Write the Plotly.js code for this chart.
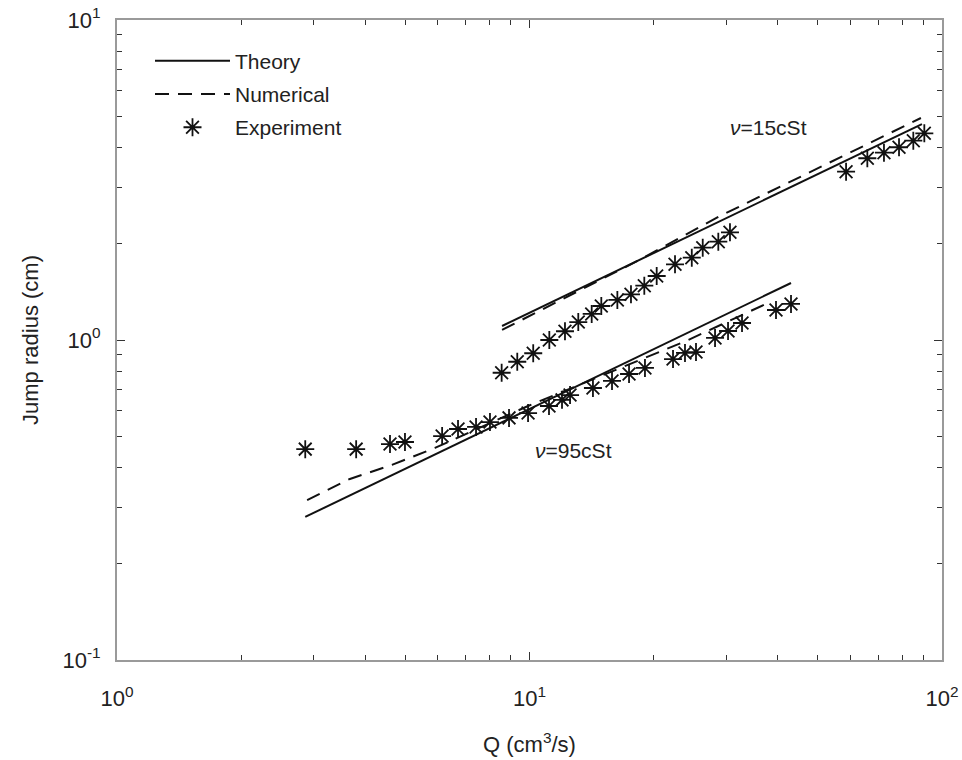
<!DOCTYPE html>
<html>
<head>
<meta charset="utf-8">
<script src="https://cdn.plot.ly/plotly-3.0.1.min.js"></script>
<style>html,body{margin:0;padding:0;background:#fff;}#chart{width:962px;height:760px;}</style>
</head>
<body>
<div id="chart"></div>
<script>
// Experiment, nu = 95 cSt
const exp95Q = [2.86, 3.80, 4.59, 4.99, 6.14, 6.71, 7.42, 8.02, 8.92, 9.92, 11.15, 11.99, 12.54, 14.25, 15.85, 17.43, 19.05, 22.28, 23.82, 25.33, 28.17, 30.29, 32.75, 39.59, 43.05];
const exp95R = [0.456, 0.456, 0.473, 0.480, 0.501, 0.527, 0.535, 0.554, 0.571, 0.591, 0.622, 0.650, 0.673, 0.708, 0.745, 0.783, 0.818, 0.872, 0.911, 0.917, 1.015, 1.067, 1.130, 1.241, 1.296];
// Experiment, nu = 15 cSt
const exp15Q = [8.56, 9.34, 10.21, 11.17, 12.19, 13.13, 14.15, 14.93, 16.33, 17.62, 18.98, 20.34, 22.53, 24.74, 26.30, 28.69, 30.62, 58.54, 65.92, 72.33, 78.67, 85.20, 90.60];
const exp15R = [0.790, 0.855, 0.909, 1.000, 1.065, 1.138, 1.206, 1.277, 1.334, 1.389, 1.478, 1.585, 1.724, 1.808, 1.943, 2.029, 2.170, 3.357, 3.698, 3.849, 4.002, 4.197, 4.424];
// Theory lines
const theory95Q = [2.86, 43.05];
const theory95R = [0.280, 1.507];
const theory15Q = [8.58, 89.4];
const theory15R = [1.106, 4.73];
// Numerical curves
const num95Q = [2.89, 3.67, 4.64, 5.90, 9.92, 14.83, 23.95, 38.28];
const num95R = [0.316, 0.368, 0.407, 0.460, 0.622, 0.772, 0.993, 1.314];
const num15Q = [8.58, 18.53, 28.96, 88.9];
const num15R = [1.075, 1.783, 2.44, 4.94];

// Labels
const xTickVals = [1, 10, 100];
const xTickText = ['10<sup>0</sup>', '10<sup>1</sup>', '10<sup>2</sup>'];
const yTickVals = [0.1, 1, 10];
const yTickText = ['10<sup>-1</sup>', '10<sup>0</sup>', '10<sup>1</sup>'];
const minorX = [2,3,4,5,6,7,8,9,20,30,40,50,60,70,80,90];
const minorY = [0.2,0.3,0.4,0.5,0.6,0.7,0.8,0.9,2,3,4,5,6,7,8,9];
const seriesNames = ['Theory', 'Numerical', 'Experiment'];
const labelNames = ['<i>ν</i>=15cSt', '<i>ν</i>=95cSt'];
const labelQ = [37.9, 12.75];
const labelR = [4.60, 0.45];

const black = '#111';
const dashStyle = '14px,9px';
const markerStyle = {symbol: 'asterisk-open', size: 15, color: black, line: {color: black, width: 1.8}};
const traces = [
  {x: theory15Q, y: theory15R, mode: 'lines', name: seriesNames[0], legendgroup: 'th', showlegend: true,
   line: {color: black, width: 2}},
  {x: theory95Q, y: theory95R, mode: 'lines', name: seriesNames[0], legendgroup: 'th', showlegend: false,
   line: {color: black, width: 2}},
  {x: num15Q, y: num15R, mode: 'lines', name: seriesNames[1], legendgroup: 'nu', showlegend: true,
   line: {color: black, width: 2, dash: dashStyle}},
  {x: num95Q, y: num95R, mode: 'lines', name: seriesNames[1], legendgroup: 'nu', showlegend: false,
   line: {color: black, width: 2, dash: dashStyle}},
  {x: exp15Q, y: exp15R, mode: 'markers', name: seriesNames[2], legendgroup: 'ex', showlegend: true,
   marker: markerStyle},
  {x: exp95Q, y: exp95R, mode: 'markers', name: seriesNames[2], legendgroup: 'ex', showlegend: false,
   marker: markerStyle}
];

const FONT = 'Liberation Sans, Arial, sans-serif';
const axisCommon = {
  type: 'log',
  showline: true, linecolor: '#9a9a9a', linewidth: 2, mirror: 'allticks',
  ticks: 'inside', ticklen: 8, tickwidth: 1, tickcolor: '#333',
  showgrid: false, zeroline: false,
  tickfont: {family: FONT, size: 22, color: '#222'},
  tickmode: 'array'
};

const layout = {
  width: 962, height: 760,
  margin: {l: 117, r: 20, t: 20, b: 100},
  paper_bgcolor: '#fff', plot_bgcolor: '#fff',
  font: {family: FONT, color: '#222', size: 21},
  xaxis: Object.assign({}, axisCommon, {
    range: [0, 2], tickvals: xTickVals, ticktext: xTickText, ticklabelstandoff: 18,
    minor: {tickmode: 'array', tickvals: minorX, ticks: 'inside', ticklen: 5, tickcolor: '#333', tickwidth: 1},
    title: {text: 'Q (cm<sup>3</sup>/s)', font: {size: 22, color: '#222'}, standoff: 26}
  }),
  yaxis: Object.assign({}, axisCommon, {
    range: [-1, 1], tickvals: yTickVals, ticktext: yTickText, ticklabelstandoff: 10,
    minor: {tickmode: 'array', tickvals: minorY, ticks: 'inside', ticklen: 5, tickcolor: '#333', tickwidth: 1},
    title: {text: 'Jump radius (cm)', font: {size: 22, color: '#222'}, standoff: 18}
  }),
  legend: {
    x: 0.04, y: 0.968, xanchor: 'left', yanchor: 'top',
    bgcolor: 'rgba(0,0,0,0)', borderwidth: 0, itemwidth: 75,
    font: {size: 21, color: '#222'}, tracegroupgap: 3
  },
  annotations: labelNames.map((t, i) => ({
    x: Math.log10(labelQ[i]), y: Math.log10(labelR[i]), xref: 'x', yref: 'y', text: t, showarrow: false,
    font: {size: 21, color: '#222'}
  }))
};

Plotly.newPlot('chart', traces, layout, {displayModeBar: false, staticPlot: true});
</script>
</body>
</html>
